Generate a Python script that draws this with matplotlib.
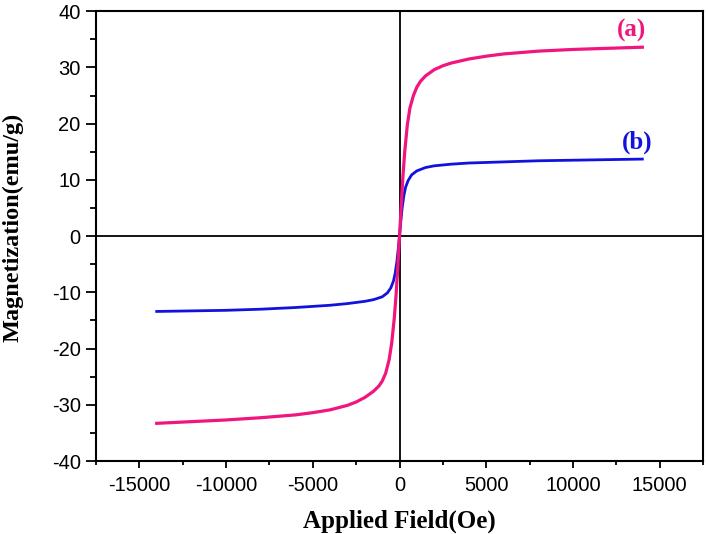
import matplotlib
matplotlib.use("Agg")
import matplotlib.pyplot as plt
from matplotlib.ticker import MultipleLocator

plt.rcParams['axes.unicode_minus'] = False

# sample (a)
field_a = [-14000, -12000, -10000, -8000, -6000, -5000, -4000, -3000, -2500, -2000,
           -1500, -1200, -1000, -800, -600, -450, -300, -200, -100, 0,
           100, 200, 300, 450, 600, 800, 1000, 1200, 1500, 2000,
           2500, 3000, 4000, 5000, 6000, 8000, 10000, 12000, 14000]
mag_a = [-33.3, -33.0, -32.7, -32.3, -31.8, -31.4, -30.9, -30.1, -29.5, -28.7,
         -27.6, -26.7, -25.8, -24.4, -22.0, -19.0, -14.5, -10.5, -5.5, 0.0,
         5.5, 10.8, 15.0, 19.8, 22.8, 25.0, 26.5, 27.5, 28.5, 29.6,
         30.3, 30.8, 31.5, 32.0, 32.4, 32.9, 33.2, 33.4, 33.6]

# sample (b)
field_b = [-14000, -12000, -10000, -8000, -6000, -4000, -3000, -2000, -1500, -1000,
           -700, -500, -350, -250, -150, -50, 0, 50, 150, 250,
           350, 500, 700, 1000, 1500, 2000, 3000, 4000, 6000, 8000,
           10000, 12000, 14000]
mag_b = [-13.4, -13.3, -13.2, -13.0, -12.7, -12.3, -12.0, -11.6, -11.3, -10.8,
         -10.1, -9.2, -8.0, -6.6, -4.5, -1.6, 0.0, 1.8, 5.0, 7.2,
         8.7, 9.9, 10.9, 11.6, 12.2, 12.5, 12.8, 13.0, 13.2, 13.4,
         13.5, 13.6, 13.7]

pink = '#F0157F'
blue = '#1212DD'

fig = plt.figure(figsize=(7.08, 5.34), dpi=100)
ax = fig.add_axes([0.1356, 0.1367, 0.8574, 0.8423])

ax.axhline(0, color='black', lw=1.3, zorder=1)
ax.axvline(0, color='black', lw=1.3, zorder=1)
ax.plot(field_b, mag_b, color=blue, lw=2.0, zorder=2)
ax.plot(field_a, mag_a, color=pink, lw=2.3, zorder=3)

ax.set_xlim(-17500, 17500)
ax.set_ylim(-40, 40)
ax.xaxis.set_major_locator(MultipleLocator(5000))
ax.xaxis.set_minor_locator(MultipleLocator(2500))
ax.yaxis.set_major_locator(MultipleLocator(10))
ax.yaxis.set_minor_locator(MultipleLocator(5))
ax.tick_params(which='major', direction='out', width=1.3, labelsize=14.5)
ax.tick_params(axis='y', which='major', length=7, pad=4)
ax.tick_params(axis='x', which='major', length=5, pad=6)
ax.tick_params(axis='y', which='minor', direction='out', length=4, width=1.3)
ax.tick_params(axis='x', which='minor', direction='out', length=3, width=1.3)
for lab in ax.get_xticklabels() + ax.get_yticklabels():
    lab.set_family('Liberation Sans')
for sp in ax.spines.values():
    sp.set_linewidth(1.5)

ax.set_xlabel('Applied Field(Oe)', family='Liberation Serif', weight='bold', fontsize=18, labelpad=10)
ax.set_ylabel('Magnetization(emu/g)', family='Liberation Serif', weight='bold', fontsize=17.5, labelpad=2)
ax.yaxis.set_label_coords(-0.12, 0.52)

ax.text(13360, 35.4, '(a)', color=pink, family='Liberation Serif', weight='bold', fontsize=18,
        ha='center', va='baseline')
ax.text(13700, 15.6, '(b)', color=blue, family='Liberation Serif', weight='bold', fontsize=18,
        ha='center', va='baseline')

fig.savefig('out.png', dpi=100)
